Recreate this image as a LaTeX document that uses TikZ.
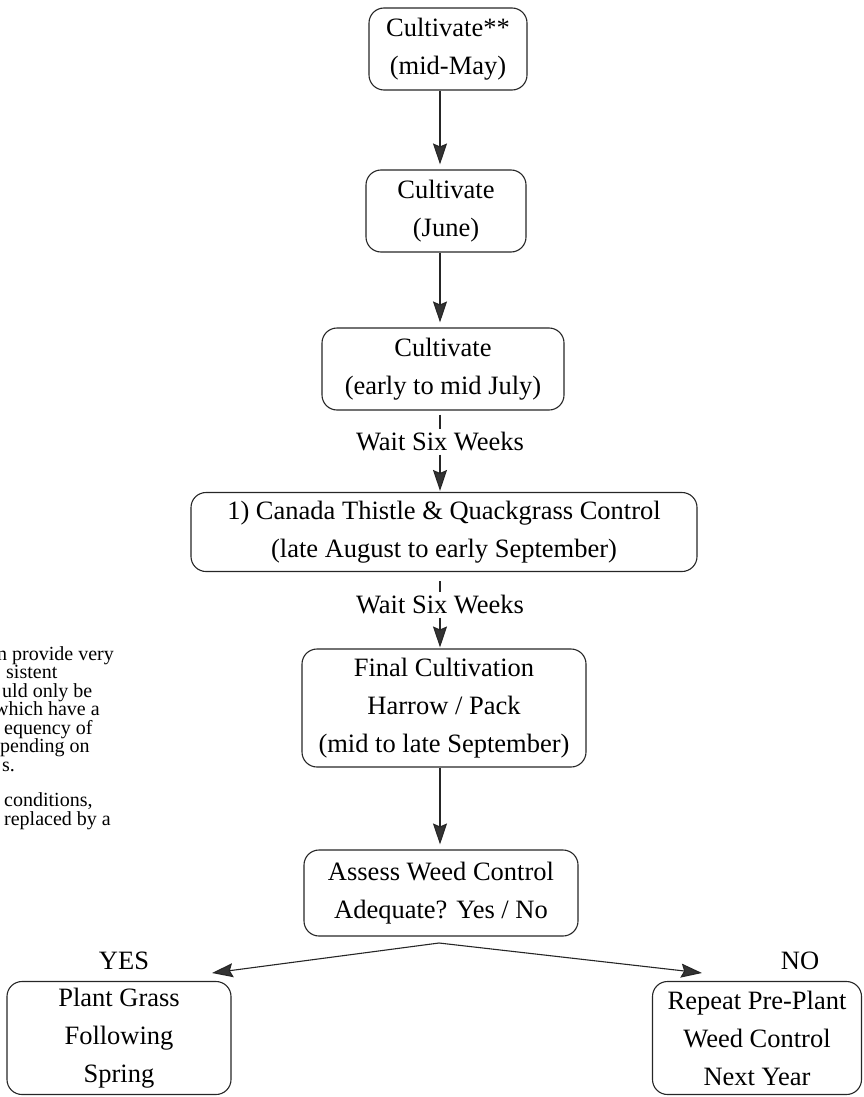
\documentclass[tikz,border=0pt]{standalone}
\usepackage{fontspec}
\setmainfont{Liberation Serif}
\usetikzlibrary{arrows.meta,positioning}

\begin{document}
\begin{tikzpicture}[x=1pt,y=-1pt,
    stepbox/.style={rectangle,draw=black!85,rounded corners=15pt,line width=1.1pt,align=center,inner sep=0pt,
        font=\fontsize{26.5}{38}\selectfont},
    waitlabel/.style={inner sep=3pt,font=\fontsize{26.5}{30}\selectfont},
    notetext/.style={anchor=north west,inner sep=0pt,align=left,font=\fontsize{20}{18.5}\selectfont},
    flow/.style={draw=black!85,line width=1.1pt,shorten >=5pt,
        -{Stealth[length=21pt,width=14pt,inset=3pt,fill=black!80]}}]
    \useasboundingbox (0,0) rectangle (864,1097);

    % main column
    \node[stepbox,minimum width=158pt,minimum height=82pt] (may) at (448,49) {Cultivate**\\(mid-May)};
    \node[stepbox,minimum width=160pt,minimum height=82pt] (june) at (446,211) {Cultivate\\(June)};
    \node[stepbox,minimum width=242pt,minimum height=82pt] (july) at (443,369) {Cultivate\\(early to mid July)};
    \node[waitlabel] (wait1) at (440,442) {Wait Six Weeks};
    \node[stepbox,minimum width=506pt,minimum height=79pt] (thistle) at (444,532)
        {1) Canada Thistle \& Quackgrass Control\\(late August to early September)};
    \node[waitlabel] (wait2) at (440,605) {Wait Six Weeks};
    \node[stepbox,minimum width=284pt,minimum height=118pt] (final) at (444,708)
        {Final Cultivation\\Harrow / Pack\\(mid to late September)};
    \node[stepbox,minimum width=274pt,minimum height=86pt] (assess) at (441,893)
        {Assess Weed Control\\Adequate? Yes / No};

    % outcomes
    \node[waitlabel] (yes) at (124,961) {YES};
    \node[waitlabel] (no) at (800,961) {NO};
    \node[stepbox,minimum width=224pt,minimum height=113pt] (plant) at (119,1038)
        {Plant Grass\\Following\\Spring};
    \node[stepbox,minimum width=209pt,minimum height=113pt] (repeat) at (757,1038)
        {Repeat Pre-Plant\\Weed Control\\Next Year};
    \coordinate (split) at (439,943);
    \coordinate (yestip) at (212,973);
    \coordinate (notip) at (702,973);

    % connectors
    \draw[flow] (may.south -| 440,0) -- (june.north -| 440,0);
    \draw[flow] (june.south -| 440,0) -- (july.north -| 440,0);
    \draw[draw=black!85,line width=1.1pt,shorten <=4pt] (july.south -| 440,0) -- (wait1);
    \draw[flow,shorten >=1pt] (wait1) -- (wait1 |- thistle.north);
    \draw[draw=black!85,line width=1.1pt,shorten <=9pt] (thistle.south -| 440,0) -- (wait2);
    \draw[flow,shorten >=1pt] (wait2) -- (wait2 |- final.north);
    \draw[flow] (final.south -| 440,0) -- (assess.north -| 440,0);
    \draw[flow,shorten >=0pt] (split) -- (yestip);
    \draw[flow,shorten >=0pt] (split) -- (notip);

    % cut-off side note
    \node[notetext] (note) at (-3,646) {n provide very\\
        \hspace*{9pt}sistent\\
        \hspace*{5pt}uld only be\\
        \hspace*{-3pt}which have a\\
        \hspace*{7pt}equency of\\
        \hspace*{3pt}pending on\\
        \hspace*{5pt}s.\\[17pt]
        \hspace*{7pt}conditions,\\
        \hspace*{7pt}replaced by a};
\end{tikzpicture}
\end{document}
